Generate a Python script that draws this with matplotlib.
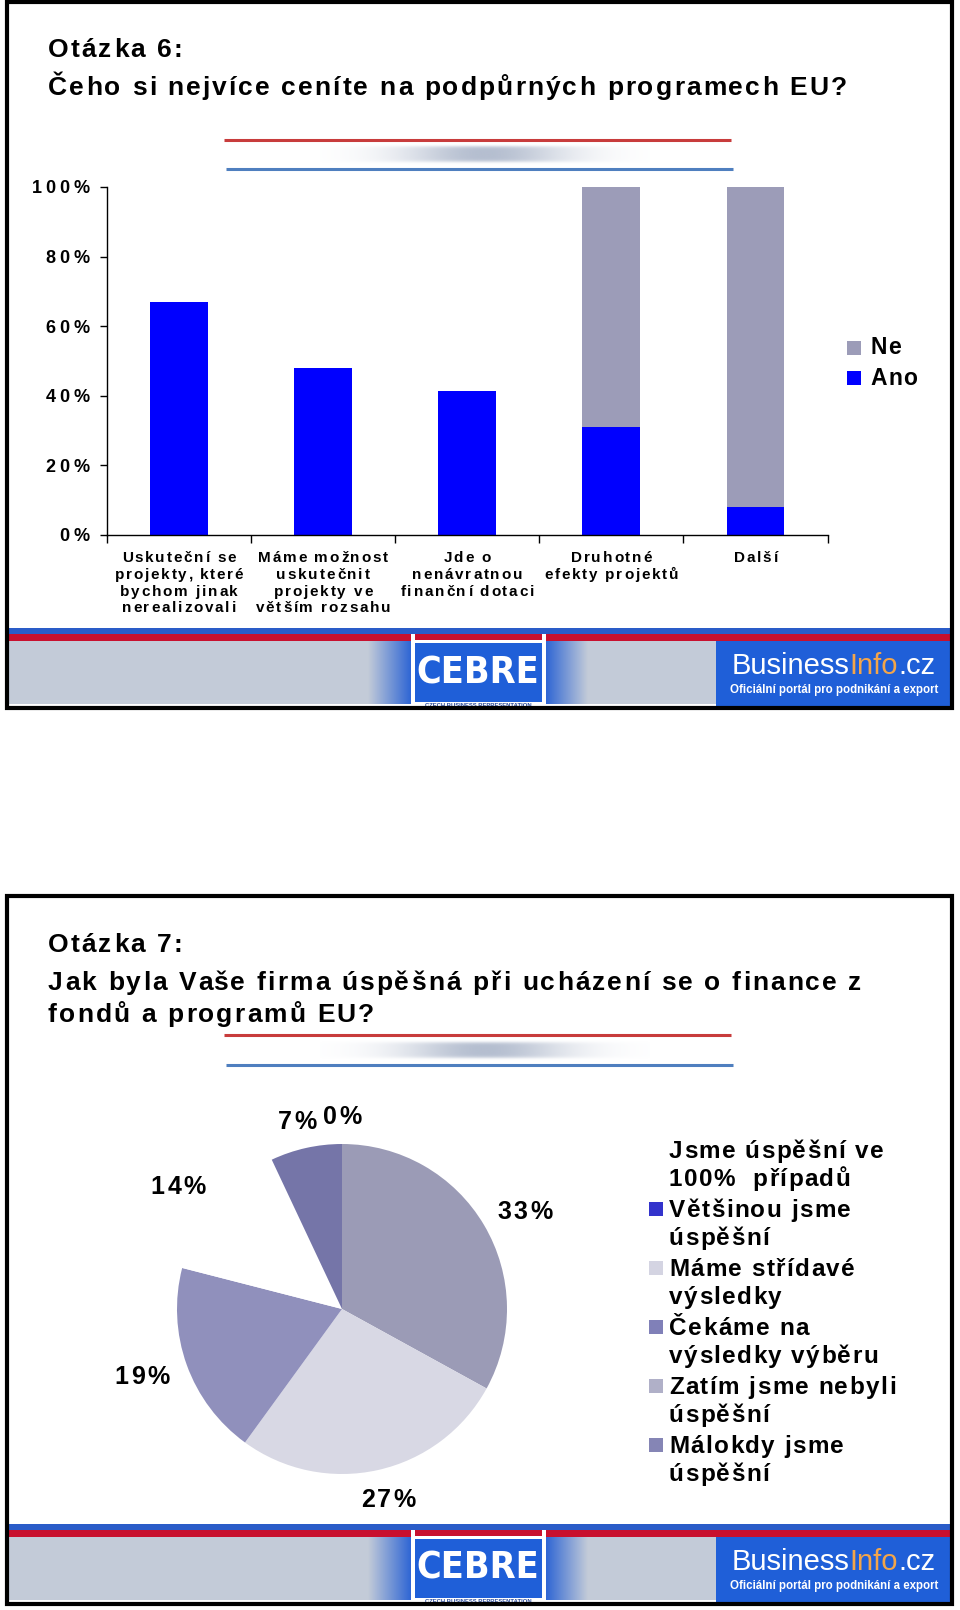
import numpy as np
import matplotlib
matplotlib.use("Agg")
import matplotlib.pyplot as plt
from matplotlib.patches import Rectangle
from matplotlib.font_manager import FontProperties

# ---------------- data ----------------
bar_categories = ["Uskuteční se\nprojekty, které\nbychom jinak\nnerealizovali",
                  "Máme možnost\nuskutečnit\nprojekty ve\nvětším rozsahu",
                  "Jde o\nnenávratnou\nfinanční dotaci",
                  "Druhotné\nefekty projektů",
                  "Další"]
ano_values = [67, 48, 41.5, 31, 8]
ne_values = [0, 0, 0, 69, 92]
series_names = ["Ne", "Ano"]
y_ticks = [0, 20, 40, 60, 80, 100]
y_tick_labels = ["0%", "20%", "40%", "60%", "80%", "100%"]

pie_labels = ["Jsme úspěšní ve\n100%  případů", "Většinou jsme\núspěšní", "Máme střídavé\nvýsledky",
              "Čekáme na\nvýsledky výběru", "Zatím jsme nebyli\núspěšní", "Málokdy jsme\núspěšní"]
pie_values = [0, 33, 27, 19, 14, 7]

title1 = ["Otázka 6:", "Čeho si nejvíce ceníte na podpůrných programech EU?"]
title2 = ["Otázka 7:", "Jak byla Vaše firma úspěšná při ucházení se o finance z", "fondů a programů EU?"]

# ---------------- styles ----------------
FONT = "Liberation Sans"
ANO_C = "#0000ff"
NE_C = "#9c9cb8"
pie_colors = ["#ffffff", "#9b9bb6", "#d8d8e4", "#9090bc", "#ffffff", "#7575a8"]
legend_marker_colors = [None, "#3333cc", "#d4d4e2", "#8080b8", "#b0b0c8", "#8585b5"]

W, H = 960, 1610
fig = plt.figure(figsize=(W / 100, H / 100), dpi=100)
fig.patch.set_facecolor("white")
REND = fig.canvas.get_renderer()

ov = fig.add_axes([0, 0, 1, 1], zorder=0)
ov.set_xlim(0, W)
ov.set_ylim(H, 0)
ov.axis("off")


def fprop(size, weight="bold", family=FONT):
    return FontProperties(family=family, weight=weight, size=size)


def tw(s, fp):
    return REND.get_text_width_height_descent(s, fp, ismath=False)[0]


def tracked_width(s, fp, track):
    return tw("|" + s + "|", fp) - tw("||", fp) + track * (len(s) - 1)


def tracked(x, y, s, track, fp, ha="left", color="black", zorder=5):
    """Draw text with extra letter spacing; y = baseline in overlay pixels."""
    base = tw("||", fp)
    total = tracked_width(s, fp, track)
    if ha == "center":
        x0 = x - total / 2
    elif ha == "right":
        x0 = x - total
    else:
        x0 = x
    for i, c in enumerate(s):
        if c == " ":
            continue
        px = x0 + tw("|" + s[:i] + "|", fp) - base + i * track
        ov.text(px, y, c, fontproperties=fp, ha="left", va="baseline", color=color, zorder=zorder)
    return total


def slide_frame(y0, y1):
    ov.add_patch(Rectangle((7, y0), 945, y1 - y0, fill=False, lw=3, ec="black", zorder=10))


def deco_lines(yr, yb):
    ov.plot([224, 731], [yr, yr], color="#c83c3c", lw=2.2, zorder=2, solid_capstyle="butt")
    ov.plot([226, 733], [yb, yb], color="#4f7fbf", lw=2.2, zorder=2, solid_capstyle="butt")
    xs = np.linspace(-1, 1, 300)
    ys = np.linspace(-1, 1, 40)
    X, Y = np.meshgrid(xs, ys)
    a = np.exp(-(X / 0.5) ** 2) * np.exp(-(Y / 0.75) ** 6) * 0.8
    img = np.zeros((40, 300, 4))
    img[..., 0] = 0xa2 / 255
    img[..., 1] = 0xae / 255
    img[..., 2] = 0xc4 / 255
    img[..., 3] = a
    ov.imshow(img, extent=(320, 650, yb - 4, yr + 4), aspect="auto", zorder=1, interpolation="bilinear")


def hgrad(x0, x1, yt, yb, c0, c1):
    c0 = np.array(matplotlib.colors.to_rgb(c0))
    c1 = np.array(matplotlib.colors.to_rgb(c1))
    t = np.linspace(0, 1, 100)[None, :, None]
    img = c0 * (1 - t) + c1 * t
    ov.imshow(img, extent=(x0, x1, yb, yt), aspect="auto", zorder=3, interpolation="bilinear")


def banner(y0):
    gray = "#c3cbd8"
    blue = "#1f5fd8"
    ov.add_patch(Rectangle((8, y0), 943, 6, color="#2a5cc8", zorder=3, lw=0))
    ov.add_patch(Rectangle((8, y0 + 6), 943, 7, color="#c8102e", zorder=3, lw=0))
    ov.add_patch(Rectangle((8, y0 + 13), 943, 63, color=gray, zorder=3, lw=0))
    hgrad(368, 411, y0 + 13, y0 + 76, gray, "#2f66d4")
    hgrad(546, 588, y0 + 13, y0 + 76, "#2f66d4", gray)
    # CEBRE box
    ov.add_patch(Rectangle((411, y0 + 6), 135, 74, color="white", zorder=4, lw=0))
    ov.add_patch(Rectangle((415, y0 + 6), 127, 6, color="#c8102e", zorder=5, lw=0))
    ov.add_patch(Rectangle((415, y0 + 15), 127, 59, color=blue, zorder=5, lw=0))
    ov.text(478, y0 + 45, "CEBRE", color="white", fontsize=27, fontweight="bold",
            family="DejaVu Sans", fontstretch="condensed", ha="center", va="center", zorder=6)
    ov.text(478, y0 + 77.5, "CZECH BUSINESS REPRESENTATION", color="#2a4a9a", fontsize=4.2,
            fontweight="bold", family=FONT, ha="center", va="center", zorder=6)
    # BusinessInfo box
    ov.add_patch(Rectangle((716, y0 + 13), 235, 65, color=blue, zorder=4, lw=0))
    x = 732
    for part, col in [("Business", "white"), ("Info", "#f3a54a"), (".cz", "white")]:
        t = ov.text(x, y0 + 38, part, color=col, fontsize=21, family=FONT, ha="left",
                    va="center", zorder=6)
        bb = t.get_window_extent(renderer=REND)
        x += bb.width
    ov.text(834, y0 + 62, "Oficiální portál pro podnikání a export", color="white", fontsize=8.3,
            fontweight="bold", family=FONT, ha="center", va="center", zorder=6)


TITLE_FP = fprop(19)

# ---------------- slide 1 ----------------
slide_frame(2, 708)
tracked(48, 57, title1[0], 2.1, TITLE_FP)
tracked(48, 95, title1[1], 2.1, TITLE_FP)
deco_lines(139.6, 169.4)

axb = fig.add_axes([106.8 / W, 1 - 535 / H, (827.5 - 106.8) / W, (535 - 186.9) / H], zorder=2)
axb.patch.set_alpha(0)
xpos = np.arange(len(bar_categories))
axb.bar(xpos, ano_values, width=0.4, color=ANO_C, label=series_names[1], zorder=2)
axb.bar(xpos, ne_values, width=0.4, bottom=ano_values, color=NE_C, label=series_names[0], zorder=2)
axb.set_xlim(-0.5, len(bar_categories) - 0.5)
axb.set_ylim(0, 100)
for s in ["top", "right"]:
    axb.spines[s].set_visible(False)
axb.spines["left"].set_linewidth(1)
axb.spines["bottom"].set_linewidth(1)
axb.set_yticks(y_ticks, [""] * len(y_ticks))
axb.tick_params(axis="y", length=5, width=1)
axb.set_xticks(np.arange(-0.5, len(bar_categories), 1.0), [""] * (len(bar_categories) + 1))
axb.tick_params(axis="x", which="major", length=6, width=1)

# y tick labels (tracked)
YT_FP = fprop(13)
for v, lab in zip(y_ticks, y_tick_labels):
    dx, dy = axb.transData.transform((-0.5, v))
    tracked(dx - 17, H - dy + 6.5, lab, 4.0, YT_FP, ha="right")

# category labels (tracked, centered under bars)
XT_FP = fprop(11)
for xi, lab in zip(xpos, bar_categories):
    dx, dy = axb.transData.transform((xi, 0))
    for j, line in enumerate(lab.split("\n")):
        tracked(dx, H - dy + 27 + j * 16.8, line, 1.8, XT_FP, ha="center")

# legend Ne / Ano
LG_FP = fprop(16.5)
for k, (name, col) in enumerate(zip(series_names, [NE_C, ANO_C])):
    yc = 348.5 + k * 30
    ov.add_patch(Rectangle((847, yc - 7), 14, 14, color=col, lw=0, zorder=3))
    tracked(870, yc + 6, name, 1.5, LG_FP)

banner(628)

# ---------------- slide 2 ----------------
slide_frame(896.3, 1603.7)
tracked(48, 952, title2[0], 2.1, TITLE_FP)
tracked(48, 990, title2[1], 2.1, TITLE_FP)
tracked(48, 1022, title2[2], 2.1, TITLE_FP)
deco_lines(1035, 1065)

R = 165
cx, cy = 342, 1309
side = 3.0 * R
axp = fig.add_axes([(cx - side / 2) / W, 1 - (cy + side / 2) / H, side / W, side / H], zorder=2)
axp.patch.set_alpha(0)
wedges, texts, autotexts = axp.pie(pie_values, colors=pie_colors, startangle=90, counterclock=False,
                                   autopct="%.0f%%", pctdistance=1.2,
                                   wedgeprops={"linewidth": 0})
axp.set_xlim(-1.5, 1.5)
axp.set_ylim(-1.5, 1.5)
axp.set_aspect("equal")

# percentage labels: placed outside each wedge (Excel "outside end" style)
PL_FP = fprop(18)
c0 = axp.transData.transform((0, 0))
rpx = axp.transData.transform((1, 0))[0] - c0[0]
for wdg, at in zip(wedges, autotexts):
    s = at.get_text()
    at.set_visible(False)
    th = np.deg2rad((wdg.theta1 + wdg.theta2) / 2)
    w = tracked_width(s, PL_FP, 2.5)
    capv = 18 * 100 / 72 * 0.716
    px = c0[0] + (rpx + 20) * np.cos(th) + w / 2 * np.cos(th)
    py = c0[1] + (rpx + 20) * np.sin(th) + capv / 2 * np.sin(th)
    tracked(px, H - py + capv / 2, s, 2.5, PL_FP, ha="center")

# legend (manual, markers on first line)
PLG_FP = fprop(17.5)
lx, ly0, step = 649, 1150, 59
for i, (lab, mc) in enumerate(zip(pie_labels, legend_marker_colors)):
    yy = ly0 + i * step
    if mc is not None:
        ov.add_patch(Rectangle((lx, yy - 7), 14, 14, color=mc, lw=0, zorder=3))
    for j, line in enumerate(lab.split("\n")):
        tracked(lx + 20, yy + 8 + j * 27.5, line, 1.4, PLG_FP)

banner(1523.6)

fig.savefig("out.png", dpi=100, facecolor="white")
